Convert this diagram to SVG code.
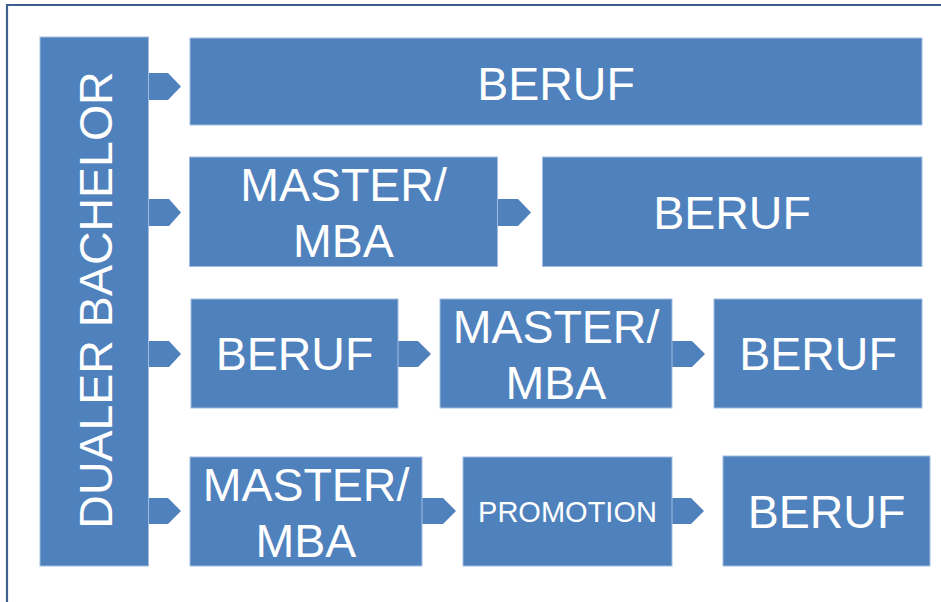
<svg xmlns="http://www.w3.org/2000/svg" width="941" height="602" viewBox="0 0 941 602">
<style>
.box{fill:#4f81bd;stroke:#a3bde0;stroke-width:1}
.tab{fill:#4f81bd}
.t{font-family:"Liberation Sans",Arial,sans-serif;fill:#ffffff;text-anchor:middle;font-size:46.5px}
.s{font-size:29px}
</style>
<rect width="941" height="602" fill="#ffffff"/>
<path d="M7,602 V5 H941" fill="none" stroke="#3c5f8d" stroke-width="2.2"/>
<g id="connectors">
<polygon class="tab" points="148,73 168,73 181,86.5 168,100 148,100"/>
<polygon class="tab" points="148,199 169,199 181,212.5 169,226 148,226"/>
<polygon class="tab" points="148,341 169,341 181,354 169,367 148,367"/>
<polygon class="tab" points="148,498 168,498 181,511 168,524 148,524"/>
<polygon class="tab" points="497,199 518,199 531,212.5 518,226 497,226"/>
<polygon class="tab" points="398,341 418,341 431,354 418,367 398,367"/>
<polygon class="tab" points="672,341 692,341 705,354 692,367 672,367"/>
<polygon class="tab" points="422,498 443,498 456,511 443,524 422,524"/>
<polygon class="tab" points="672,498 691,498 704,511 691,524 672,524"/>
</g>
<g id="bachelor">
<rect class="box" x="40" y="37" width="108.5" height="529"/>
<text class="t" transform="translate(112,300) rotate(-90)" font-size="47">DUALER BACHELOR</text>
</g>
<g id="r1-beruf">
<rect class="box" x="190" y="38" width="732" height="87"/>
<text class="t" x="556" y="100">BERUF</text>
</g>
<g id="r2-master">
<rect class="box" x="189.5" y="157" width="308" height="109.5"/>
<text class="t" x="343.5" y="201">MASTER/</text>
<text class="t" x="343.5" y="257">MBA</text>
</g>
<g id="r2-beruf">
<rect class="box" x="542.5" y="157" width="379.5" height="109.5"/>
<text class="t" x="732" y="229">BERUF</text>
</g>
<g id="r3-beruf">
<rect class="box" x="191" y="299" width="207" height="109"/>
<text class="t" x="294.5" y="370">BERUF</text>
</g>
<g id="r3-master">
<rect class="box" x="440" y="299" width="232" height="109"/>
<text class="t" x="556" y="343">MASTER/</text>
<text class="t" x="556" y="399">MBA</text>
</g>
<g id="r3-beruf2">
<rect class="box" x="714" y="299" width="208" height="109"/>
<text class="t" x="818" y="370">BERUF</text>
</g>
<g id="r4-master">
<rect class="box" x="190" y="457" width="232" height="109"/>
<text class="t" x="306" y="501">MASTER/</text>
<text class="t" x="306" y="557">MBA</text>
</g>
<g id="r4-promotion">
<rect class="box" x="463" y="457" width="209" height="109"/>
<text class="t s" x="567.5" y="522">PROMOTION</text>
</g>
<g id="r4-beruf">
<rect class="box" x="723" y="456" width="207" height="110"/>
<text class="t" x="826.5" y="528">BERUF</text>
</g>
</svg>
